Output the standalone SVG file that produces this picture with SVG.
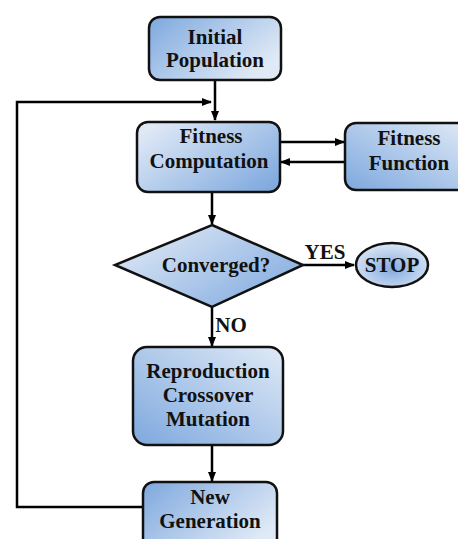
<svg xmlns="http://www.w3.org/2000/svg" width="458" height="539" viewBox="0 0 458 539">
<defs>
<linearGradient id="gDR" x1="0" y1="0" x2="1" y2="0.6"><stop offset="0" stop-color="#7ea8de"/><stop offset="1" stop-color="#e0eaf6"/></linearGradient>
<linearGradient id="gLD" x1="0" y1="0.2" x2="1" y2="0.9"><stop offset="0" stop-color="#dfe9f6"/><stop offset="1" stop-color="#7ea8de"/></linearGradient>
<linearGradient id="gBL" x1="0" y1="1" x2="1" y2="0"><stop offset="0" stop-color="#7ea8de"/><stop offset="1" stop-color="#e0eaf6"/></linearGradient>
<radialGradient id="gE" cx="0.5" cy="0.6" r="0.6"><stop offset="0" stop-color="#85acdf"/><stop offset="1" stop-color="#dce7f5"/></radialGradient>
<marker id="ah" viewBox="0 0 10 10" refX="9" refY="5" markerWidth="4" markerHeight="4" orient="auto" markerUnits="strokeWidth"><path d="M0,1 L10,5 L0,9 z" fill="#000"/></marker>
</defs>
<style>
.box{stroke:#111;stroke-width:2.5}
.t{font-family:"Liberation Serif","Times New Roman",serif;font-weight:bold;fill:#111;text-anchor:middle;dominant-baseline:central;font-size:21px}
.ln{fill:none;stroke:#000;stroke-width:2.5}
</style>
<g id="connectors">
<line class="ln" x1="215" y1="80" x2="215" y2="120" marker-end="url(#ah)"/>
<polyline class="ln" points="143,507 17,507 17,102 211,102" marker-end="url(#ah)"/>
<line class="ln" x1="280" y1="142" x2="344" y2="142" marker-end="url(#ah)"/>
<line class="ln" x1="345" y1="162" x2="281" y2="162" marker-end="url(#ah)"/>
<line class="ln" x1="212" y1="192" x2="212" y2="224" marker-end="url(#ah)"/>
<line class="ln" x1="303" y1="265" x2="354" y2="265" marker-end="url(#ah)"/>
<line class="ln" x1="212" y1="307" x2="212" y2="346" marker-end="url(#ah)"/>
<line class="ln" x1="212" y1="445" x2="212" y2="481" marker-end="url(#ah)"/>
<text class="t" x="325" y="252" font-size="17">YES</text>
<text class="t" x="231" y="325" font-size="18">NO</text>
</g>
<g id="initial">
<rect class="box" x="149" y="17" width="132" height="63" rx="11" fill="url(#gDR)"/>
<text class="t" x="215" y="37">Initial</text>
<text class="t" x="215" y="60">Population</text>
</g>
<g id="fitcomp">
<rect class="box" x="137" y="122" width="143" height="70" rx="11" fill="url(#gLD)"/>
<text class="t" x="211" y="136">Fitness</text>
<text class="t" x="209" y="161" font-size="23">Computation</text>
</g>
<g id="fitfunc">
<rect class="box" x="345" y="123" width="125" height="67" rx="11" fill="url(#gBL)"/>
<text class="t" x="409" y="138">Fitness</text>
<text class="t" x="409" y="163">Function</text>
</g>
<g id="converged">
<polygon class="box" points="212,225 303,265 212,307 115,265" fill="url(#gLD)"/>
<text class="t" x="216" y="265" font-size="23">Converged?</text>
</g>
<g id="stop">
<ellipse class="box" cx="392" cy="265" rx="36" ry="22" fill="url(#gE)"/>
<text class="t" x="392" y="265" font-size="20">STOP</text>
</g>
<g id="repro">
<rect class="box" x="133" y="347" width="150" height="98" rx="14" fill="url(#gBL)"/>
<text class="t" x="208" y="371">Reproduction</text>
<text class="t" x="208" y="395">Crossover</text>
<text class="t" x="208" y="419">Mutation</text>
</g>
<g id="newgen">
<rect class="box" x="143" y="482" width="134" height="70" rx="11" fill="url(#gDR)"/>
<text class="t" x="210" y="497">New</text>
<text class="t" x="210" y="521">Generation</text>
</g>
</svg>
